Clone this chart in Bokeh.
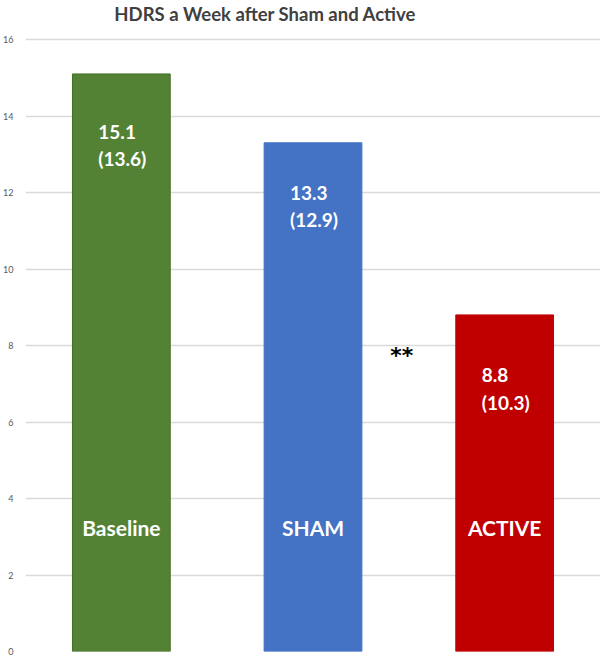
from bokeh.plotting import figure
from bokeh.models import ColumnDataSource, FixedTicker
from bokeh.core.properties import value
from bokeh.embed import file_html
from bokeh.resources import INLINE

categories = ["Baseline", "SHAM", "ACTIVE"]
hdrs_week = [15.1, 13.3, 8.8]
hdrs_paren = [13.6, 12.9, 10.3]
bar_colors = ["#548235", "#4472C4", "#C00000"]
border_colors = ["#3F6E25", "#4472C4", "#C00000"]
y_ticks = [0, 2, 4, 6, 8, 10, 12, 14, 16]
sig_marker = "**"
title_text = "HDRS a Week after Sham and Active"

# styling: how far below each bar top the value labels sit (data units)
label_drop = [1.51, 1.30, 1.58]
line_gap = 0.70
cat_label_y = 3.24
sig_y = 7.75
title_y = 16.68
y_top = 17.02  # headroom above the 16 gridline for the title

FONT = "Lato"

line1_y = [v - d for v, d in zip(hdrs_week, label_drop)]
line2_y = [y - line_gap for y in line1_y]

src = ColumnDataSource(dict(
    cat=categories, val=hdrs_week, color=bar_colors, border=border_colors,
    t1=[f"{v}" for v in hdrs_week], t2=[f"({v})" for v in hdrs_paren],
    y1=line1_y, y2=line2_y, yc=[cat_label_y] * 3,
))

p = figure(x_range=categories, y_range=(0, y_top), width=600, height=656,
           output_backend="svg", toolbar_location=None,
           min_border_left=24, min_border_right=0, min_border_top=0,
           min_border_bottom=5)
p.x_range.range_padding = 0

p.vbar(x="cat", top="val", width=0.51, bottom=0, source=src,
       fill_color="color", line_color="border", line_width=1)

p.text(x="cat", y="y1", text="t1", source=src, x_offset=-23,
       text_align="left", text_baseline="middle", text_color="white",
       text_font=value(FONT), text_font_size="19px", text_font_style="bold")
p.text(x="cat", y="y2", text="t2", source=src, x_offset=-23,
       text_align="left", text_baseline="middle", text_color="white",
       text_font=value(FONT), text_font_size="19px", text_font_style="bold")
p.text(x="cat", y="yc", text="cat", source=src,
       text_align="center", text_baseline="middle", text_color="white",
       text_font=value(FONT), text_font_size="21px", text_font_style="bold")

p.text(x=["ACTIVE"], y=[sig_y], text=[sig_marker], x_offset=-103,
       text_align="center", text_baseline="middle", text_color="black",
       text_font=value("DejaVu Sans"), text_font_size="22px",
       text_font_style="bold")

# chart title
p.text(x=["Baseline"], y=[title_y], text=[title_text], x_offset=-7,
       text_align="left", text_baseline="middle", text_color="#404040",
       text_font=value(FONT), text_font_size="18.5px", text_font_style="bold")

p.xaxis.visible = False
p.xgrid.grid_line_color = None
p.ygrid.grid_line_color = "#d9d9d9"
p.ygrid.grid_line_width = 1.5
p.yaxis.ticker = FixedTicker(ticks=y_ticks)
p.yaxis.axis_line_color = None
p.yaxis.major_tick_line_color = None
p.yaxis.minor_tick_line_color = None
p.yaxis.major_tick_out = 0
p.yaxis.major_label_standoff = 12
p.yaxis.major_label_text_font = FONT
p.yaxis.major_label_text_font_size = "9px"
p.yaxis.major_label_text_color = "#595959"
p.outline_line_color = None
p.background_fill_color = "white"
p.border_fill_color = "white"

open("out.html", "w").write(file_html(p, INLINE))
